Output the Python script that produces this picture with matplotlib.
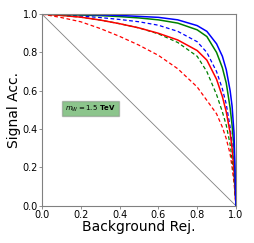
import matplotlib
matplotlib.use('Agg')
import matplotlib.pyplot as plt

# background rejection grid and signal acceptance
bkg_rej = [0.0, 0.1, 0.2, 0.3, 0.4, 0.5, 0.6, 0.7, 0.8, 0.85, 0.9, 0.93, 0.95, 0.97, 0.98, 0.99, 1.0]

sig_blue = [1.0, 0.999, 0.998, 0.996, 0.993, 0.988, 0.983, 0.97, 0.94, 0.91, 0.845, 0.78, 0.71, 0.6, 0.52, 0.38, 0.0]
sig_green = [1.0, 0.998, 0.995, 0.992, 0.987, 0.98, 0.97, 0.953, 0.918, 0.883, 0.80, 0.72, 0.64, 0.51, 0.42, 0.3, 0.0]
sig_blue_dash = [1.0, 0.996, 0.99, 0.982, 0.972, 0.96, 0.942, 0.91, 0.856, 0.80, 0.70, 0.61, 0.53, 0.41, 0.32, 0.2, 0.0]
sig_red = [1.0, 0.993, 0.984, 0.969, 0.95, 0.928, 0.90, 0.865, 0.81, 0.76, 0.66, 0.57, 0.49, 0.38, 0.3, 0.18, 0.0]
sig_green_dash = [1.0, 0.993, 0.984, 0.969, 0.95, 0.928, 0.897, 0.852, 0.78, 0.70, 0.58, 0.49, 0.42, 0.32, 0.24, 0.15, 0.0]
sig_red_dash = [1.0, 0.982, 0.96, 0.925, 0.884, 0.838, 0.785, 0.715, 0.62, 0.55, 0.48, 0.41, 0.35, 0.27, 0.2, 0.12, 0.0]

fig = plt.figure(figsize=(2.54, 2.43), dpi=100)
ax = fig.add_axes([0.165, 0.153, 0.764, 0.789])

ax.plot([0, 1], [1, 0], color='gray', lw=0.6)
ax.plot(bkg_rej, sig_red_dash, 'r--', lw=0.9, dashes=(3, 2))
ax.plot(bkg_rej, sig_green_dash, 'g--', lw=0.9, dashes=(3, 2))
ax.plot(bkg_rej, sig_blue_dash, 'b--', lw=0.9, dashes=(3, 2))
ax.plot(bkg_rej, sig_red, 'r-', lw=1.1)
ax.plot(bkg_rej, sig_green, 'g-', lw=1.1)
ax.plot(bkg_rej, sig_blue, 'b-', lw=1.1)

ax.text(0.25, 0.508, r'$m_W = 1.5$ TeV', transform=ax.transAxes, fontsize=5,
        fontweight='bold', ha='center', va='center',
        bbox=dict(boxstyle='square,pad=0.4', facecolor='green', alpha=0.45, edgecolor='gray'))

ax.set_xlim(0, 1)
ax.set_ylim(0, 1)
ax.set_xticks([0, 0.2, 0.4, 0.6, 0.8, 1.0])
ax.set_yticks([0, 0.2, 0.4, 0.6, 0.8, 1.0])
ax.tick_params(labelsize=7, length=2, width=0.6, color='gray', pad=1)
for s in ax.spines.values():
    s.set_color('gray')
ax.set_xlabel('Background Rej.', fontsize=10, labelpad=0)
ax.set_ylabel('Signal Acc.', fontsize=10, labelpad=1)

fig.savefig('out.png', dpi=100)
